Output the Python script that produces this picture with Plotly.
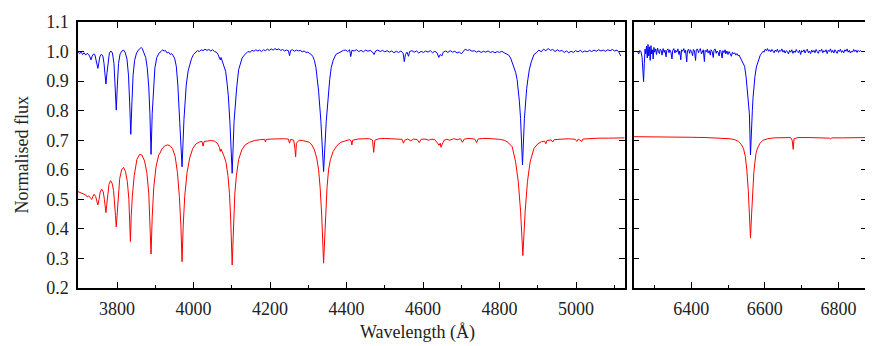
import plotly.graph_objects as go

# blue (upper) spectrum, blue arm: (wavelength A, normalised flux)
blue_left = [
    (3698, 1.000), (3702, 0.993), (3706, 0.998), (3710, 0.990), (3714, 0.996), (3718, 0.988),
    (3722, 0.994), (3726, 0.990), (3729, 0.982), (3732, 0.972), (3735, 0.985), (3739, 0.992),
    (3742, 0.990), (3745, 0.975), (3748, 0.955), (3750, 0.943), (3752, 0.958), (3755, 0.982),
    (3759, 0.991), (3763, 0.985), (3766, 0.960), (3768, 0.930), (3771, 0.890), (3774, 0.930),
    (3777, 0.975), (3780, 0.995), (3784, 1.002), (3788, 0.995), (3792, 0.960), (3795, 0.890),
    (3798, 0.802), (3801, 0.890), (3804, 0.960), (3808, 0.992), (3813, 1.002), (3817, 1.005),
    (3821, 0.998), (3826, 0.975), (3830, 0.920), (3833, 0.830), (3836, 0.720), (3839, 0.830),
    (3842, 0.920), (3846, 0.970), (3851, 0.995), (3856, 1.005), (3860, 1.012), (3863, 1.014),
    (3866, 1.010), (3870, 0.998), (3875, 0.980), (3879, 0.945), (3883, 0.880), (3886, 0.790),
    (3889, 0.652), (3892, 0.790), (3895, 0.880), (3899, 0.945), (3904, 0.980), (3910, 0.995),
    (3915, 1.000), (3919, 1.006), (3923, 1.002), (3927, 1.003), (3931, 0.995), (3935, 0.998),
    (3939, 0.990), (3943, 0.993), (3947, 0.986), (3951, 0.975), (3955, 0.950), (3959, 0.887),
    (3964, 0.760), (3970, 0.610), (3975, 0.770), (3981, 0.887), (3986, 0.935), (3990, 0.955),
    (3995, 0.977), (4000, 0.990), (4005, 0.998), (4010, 1.003), (4015, 1.000), (4020, 1.006),
    (4025, 1.003), (4030, 1.008), (4035, 1.004), (4040, 1.007), (4045, 1.002), (4050, 1.006),
    (4055, 1.000), (4060, 0.998), (4064, 0.990), (4067, 0.978), (4070, 0.972), (4072, 0.980),
    (4075, 0.967), (4078, 0.960), (4081, 0.948), (4084, 0.933), (4088, 0.890), (4091, 0.850),
    (4095, 0.764), (4101, 0.588), (4106, 0.764), (4110, 0.850), (4113, 0.880), (4118, 0.939),
    (4122, 0.960), (4127, 0.978), (4133, 0.988), (4138, 0.995), (4142, 1.000), (4148, 0.998),
    (4153, 1.004), (4158, 1.001), (4163, 1.006), (4168, 1.002), (4173, 1.005), (4178, 1.000),
    (4183, 1.006), (4188, 1.003), (4193, 1.008), (4198, 1.004), (4203, 1.009), (4208, 1.005),
    (4213, 1.010), (4218, 1.006), (4223, 1.009), (4228, 1.004), (4233, 1.007), (4238, 1.002),
    (4243, 1.005), (4248, 1.003), (4251, 0.986), (4254, 1.004), (4259, 1.006), (4264, 1.001),
    (4269, 1.005), (4274, 1.002), (4279, 1.004), (4284, 0.999), (4289, 1.002), (4294, 0.997),
    (4299, 0.998), (4304, 0.993), (4308, 0.990), (4312, 0.983), (4316, 0.970), (4320, 0.946),
    (4324, 0.905), (4327, 0.866), (4333, 0.764), (4340, 0.594), (4347, 0.764), (4353, 0.866),
    (4356, 0.905), (4360, 0.946), (4365, 0.970), (4372, 0.990), (4380, 0.996), (4386, 1.000),
    (4392, 1.004), (4398, 1.005), (4403, 1.000), (4408, 1.006), (4411, 0.983), (4414, 1.004),
    (4420, 1.002), (4426, 1.006), (4432, 1.000), (4438, 1.004), (4444, 0.999), (4450, 1.005),
    (4456, 1.001), (4462, 1.004), (4468, 0.998), (4472, 0.990), (4476, 1.002), (4482, 1.005),
    (4488, 1.000), (4494, 1.004), (4500, 0.999), (4506, 1.003), (4512, 0.998), (4518, 1.002),
    (4524, 0.996), (4530, 1.001), (4536, 0.997), (4542, 1.002), (4548, 0.994), (4551, 0.966),
    (4554, 0.990), (4558, 0.998), (4562, 0.984), (4565, 1.000), (4571, 1.003), (4577, 0.998),
    (4583, 1.002), (4589, 0.995), (4595, 1.001), (4601, 0.997), (4607, 1.002), (4613, 0.998),
    (4619, 1.003), (4625, 0.996), (4631, 1.001), (4637, 0.995), (4641, 0.980), (4645, 0.990),
    (4649, 0.985), (4653, 0.998), (4659, 1.002), (4665, 0.997), (4671, 1.003), (4677, 0.998),
    (4683, 1.001), (4689, 0.995), (4695, 0.999), (4700, 0.992), (4704, 1.000), (4710, 1.008),
    (4716, 1.004), (4722, 1.006), (4728, 1.001), (4734, 1.003), (4740, 0.998), (4746, 1.002),
    (4752, 0.997), (4758, 1.001), (4764, 0.998), (4770, 1.002), (4776, 0.997), (4782, 1.000),
    (4788, 0.996), (4794, 1.000), (4800, 0.997), (4806, 1.001), (4812, 0.996), (4818, 0.993),
    (4824, 0.988), (4829, 0.978), (4833, 0.965), (4838, 0.948), (4842, 0.930), (4846, 0.905),
    (4849, 0.875), (4852, 0.830), (4855, 0.773), (4860, 0.616), (4865, 0.773), (4868, 0.830),
    (4871, 0.875), (4874, 0.905), (4878, 0.940), (4883, 0.965), (4890, 0.990), (4896, 0.996),
    (4903, 1.005), (4909, 0.999), (4915, 1.008), (4921, 1.003), (4927, 1.010), (4933, 1.004),
    (4939, 1.007), (4945, 1.000), (4951, 1.006), (4957, 1.001), (4963, 1.004), (4969, 0.997),
    (4975, 1.002), (4981, 0.996), (4987, 1.001), (4993, 0.997), (4999, 1.003), (5005, 0.999),
    (5011, 1.004), (5017, 0.998), (5023, 1.002), (5029, 0.999), (5035, 1.004), (5041, 1.000),
    (5047, 1.005), (5053, 1.001), (5059, 1.006), (5065, 1.002), (5071, 1.005), (5077, 1.001),
    (5083, 1.006), (5089, 1.003), (5095, 1.007), (5101, 1.002), (5107, 1.005), (5112, 0.998),
    (5117, 0.985),
]

# blue spectrum, red arm (H-alpha region)
blue_right = [
    (6255, 0.998), (6258, 0.992), (6261, 1.004), (6264, 0.999), (6267, 0.980), (6269, 0.945),
    (6271, 0.898), (6273, 0.960), (6275, 1.008), (6277, 0.992), (6279, 1.018), (6281, 0.978),
    (6283, 1.024), (6285, 0.985), (6287, 1.016), (6289, 0.970), (6291, 1.020), (6293, 0.992),
    (6295, 1.006), (6297, 0.975), (6299, 1.014), (6301, 0.998), (6304, 1.009), (6306, 0.990),
    (6309, 1.012), (6311, 1.001), (6314, 0.993), (6316, 1.008), (6319, 1.003), (6321, 0.988),
    (6324, 1.010), (6327, 0.997), (6329, 1.005), (6332, 0.982), (6334, 1.004), (6337, 1.009),
    (6340, 0.996), (6342, 1.006), (6345, 0.999), (6348, 0.975), (6350, 1.003), (6353, 1.010),
    (6356, 0.995), (6358, 1.004), (6361, 0.998), (6364, 1.009), (6367, 0.990), (6369, 1.002),
    (6372, 0.972), (6374, 1.006), (6377, 1.001), (6380, 1.010), (6383, 0.996), (6385, 1.004),
    (6388, 0.965), (6390, 1.003), (6393, 1.008), (6396, 0.994), (6398, 1.006), (6401, 1.000),
    (6404, 0.986), (6406, 1.007), (6409, 1.002), (6412, 0.970), (6414, 1.005), (6417, 1.009),
    (6420, 0.996), (6422, 1.003), (6425, 1.010), (6428, 0.992), (6430, 1.001), (6433, 1.006),
    (6436, 0.966), (6438, 1.004), (6441, 0.999), (6444, 1.008), (6446, 0.995), (6449, 1.003),
    (6452, 0.988), (6454, 1.006), (6457, 1.000), (6460, 0.980), (6462, 1.004), (6465, 1.009),
    (6468, 0.994), (6470, 1.002), (6473, 0.998), (6476, 0.985), (6478, 1.005), (6481, 1.000),
    (6484, 0.978), (6486, 1.003), (6489, 0.996), (6492, 1.006), (6494, 0.992), (6497, 1.002),
    (6500, 0.990), (6503, 1.000), (6506, 0.993), (6509, 0.984), (6512, 0.998), (6515, 0.992),
    (6518, 0.996), (6521, 0.988), (6524, 0.993), (6527, 0.986), (6530, 0.988), (6533, 0.980),
    (6537, 0.975), (6541, 0.963), (6545, 0.950), (6549, 0.915), (6552, 0.880), (6555, 0.840),
    (6558, 0.790), (6561, 0.650), (6564, 0.770), (6566, 0.800), (6568, 0.845), (6570, 0.880),
    (6573, 0.915), (6577, 0.948), (6580, 0.962), (6583, 0.975), (6587, 0.986), (6591, 0.994),
    (6595, 1.001), (6598, 0.998), (6601, 1.008), (6604, 1.003), (6607, 1.010), (6610, 1.001),
    (6613, 1.006), (6616, 0.999), (6619, 1.007), (6622, 1.002), (6625, 0.996), (6628, 1.005),
    (6631, 1.000), (6634, 1.008), (6637, 0.997), (6640, 1.004), (6643, 1.001), (6646, 1.009),
    (6649, 0.998), (6652, 1.004), (6655, 0.995), (6658, 1.003), (6661, 1.000), (6664, 0.992),
    (6667, 1.004), (6670, 0.998), (6673, 1.006), (6676, 0.994), (6679, 1.002), (6682, 0.997),
    (6685, 1.007), (6688, 1.000), (6691, 0.996), (6694, 1.005), (6697, 0.990), (6700, 1.003),
    (6703, 0.999), (6706, 1.006), (6709, 0.995), (6712, 1.003), (6715, 1.008), (6718, 0.996),
    (6721, 1.002), (6724, 0.993), (6727, 1.005), (6730, 0.998), (6733, 1.004), (6736, 0.996),
    (6739, 1.007), (6742, 1.000), (6745, 0.994), (6748, 1.005), (6751, 1.001), (6754, 1.008),
    (6757, 0.996), (6760, 1.003), (6763, 0.999), (6766, 1.006), (6769, 0.993), (6772, 1.004),
    (6775, 1.000), (6778, 1.009), (6781, 0.997), (6784, 1.004), (6787, 0.995), (6790, 1.006),
    (6793, 1.001), (6796, 0.994), (6799, 1.005), (6802, 1.000), (6805, 1.008), (6808, 0.997),
    (6811, 1.003), (6814, 0.996), (6817, 1.006), (6820, 1.001), (6823, 1.009), (6826, 0.998),
    (6829, 1.004), (6832, 0.995), (6835, 1.002), (6838, 0.998), (6841, 1.007), (6844, 1.000),
    (6847, 1.005), (6850, 0.997), (6853, 1.004), (6856, 1.000), (6859, 1.003), (6861, 1.001),
]

# red (lower) spectrum, blue arm
red_left = [
    (3698, 0.526), (3705, 0.522), (3712, 0.518), (3718, 0.515), (3722, 0.508), (3726, 0.512),
    (3730, 0.505), (3734, 0.500), (3737, 0.510), (3740, 0.517), (3744, 0.510), (3747, 0.495),
    (3750, 0.481), (3753, 0.500), (3756, 0.525), (3760, 0.534), (3764, 0.525), (3767, 0.500),
    (3769, 0.475), (3771, 0.455), (3773, 0.480), (3776, 0.520), (3779, 0.550), (3783, 0.563),
    (3787, 0.555), (3791, 0.530), (3794, 0.490), (3796, 0.445), (3798, 0.407), (3800, 0.450),
    (3803, 0.510), (3807, 0.570), (3812, 0.600), (3817, 0.608), (3822, 0.595), (3827, 0.560),
    (3831, 0.500), (3833, 0.440), (3835, 0.357), (3837, 0.440), (3840, 0.510), (3845, 0.580),
    (3852, 0.635), (3859, 0.652), (3865, 0.650), (3872, 0.630), (3878, 0.590), (3883, 0.520),
    (3886, 0.440), (3889, 0.315), (3892, 0.440), (3896, 0.540), (3902, 0.610), (3909, 0.650),
    (3914, 0.660), (3916, 0.668), (3920, 0.675), (3926, 0.682), (3932, 0.684), (3938, 0.682),
    (3945, 0.672), (3952, 0.645), (3958, 0.590), (3963, 0.510), (3967, 0.410), (3970, 0.289),
    (3973, 0.410), (3977, 0.510), (3983, 0.590), (3990, 0.640), (3998, 0.672), (4006, 0.687),
    (4015, 0.694), (4022, 0.696), (4025, 0.680), (4028, 0.696), (4036, 0.697), (4045, 0.699),
    (4055, 0.697), (4062, 0.690), (4068, 0.675), (4070, 0.662), (4072, 0.670), (4076, 0.660),
    (4080, 0.645), (4085, 0.625), (4090, 0.580), (4094, 0.520), (4097, 0.440), (4101, 0.278),
    (4105, 0.440), (4108, 0.520), (4112, 0.580), (4118, 0.635), (4126, 0.667), (4135, 0.684),
    (4146, 0.693), (4160, 0.699), (4175, 0.702), (4186, 0.703), (4188, 0.694), (4190, 0.703),
    (4205, 0.704), (4220, 0.705), (4235, 0.705), (4248, 0.704), (4251, 0.690), (4254, 0.703),
    (4262, 0.700), (4265, 0.672), (4267, 0.644), (4269, 0.690), (4272, 0.695), (4276, 0.700),
    (4285, 0.699), (4295, 0.697), (4303, 0.693), (4310, 0.683), (4316, 0.667), (4322, 0.640),
    (4327, 0.600), (4331, 0.540), (4335, 0.450), (4340, 0.284), (4345, 0.450), (4349, 0.540),
    (4353, 0.600), (4358, 0.635), (4365, 0.662), (4375, 0.682), (4385, 0.693), (4397, 0.699),
    (4408, 0.702), (4412, 0.698), (4414, 0.684), (4416, 0.700), (4430, 0.704), (4445, 0.705),
    (4460, 0.705), (4468, 0.700), (4471, 0.659), (4474, 0.700), (4485, 0.705), (4500, 0.706),
    (4515, 0.705), (4530, 0.706), (4545, 0.703), (4549, 0.690), (4552, 0.700), (4560, 0.704),
    (4568, 0.698), (4575, 0.704), (4585, 0.702), (4590, 0.692), (4595, 0.703), (4605, 0.704),
    (4615, 0.700), (4620, 0.703), (4630, 0.703), (4638, 0.690), (4642, 0.683), (4645, 0.690),
    (4647, 0.676), (4650, 0.686), (4655, 0.700), (4662, 0.703), (4670, 0.700), (4680, 0.705),
    (4690, 0.702), (4698, 0.705), (4703, 0.693), (4708, 0.704), (4720, 0.706), (4735, 0.704),
    (4740, 0.692), (4744, 0.704), (4755, 0.706), (4770, 0.706), (4785, 0.705), (4800, 0.703),
    (4812, 0.700), (4822, 0.693), (4833, 0.678), (4842, 0.627), (4849, 0.560), (4855, 0.460),
    (4861, 0.310), (4867, 0.460), (4873, 0.560), (4880, 0.627), (4890, 0.672), (4900, 0.688),
    (4910, 0.695), (4918, 0.697), (4921, 0.688), (4924, 0.699), (4935, 0.701), (4939, 0.694),
    (4943, 0.702), (4960, 0.704), (4980, 0.705), (4998, 0.703), (5002, 0.696), (5006, 0.704),
    (5015, 0.696), (5018, 0.704), (5035, 0.706), (5060, 0.707), (5085, 0.707), (5110, 0.708),
    (5127, 0.708),
]

# red spectrum, red arm
red_right = [
    (6244, 0.712), (6280, 0.712), (6320, 0.711), (6360, 0.711), (6400, 0.710), (6440, 0.709),
    (6470, 0.708), (6490, 0.707), (6505, 0.705), (6518, 0.702), (6528, 0.696), (6536, 0.686),
    (6542, 0.672), (6547, 0.645), (6551, 0.600), (6555, 0.530), (6558, 0.450), (6561, 0.370),
    (6564, 0.450), (6567, 0.530), (6570, 0.590), (6573, 0.625), (6576, 0.655), (6580, 0.673),
    (6587, 0.690), (6595, 0.700), (6608, 0.705), (6625, 0.708), (6650, 0.709), (6670, 0.709),
    (6674, 0.700), (6677, 0.669), (6679, 0.705), (6690, 0.709), (6720, 0.709), (6750, 0.708),
    (6775, 0.707), (6778, 0.704), (6781, 0.708), (6810, 0.708), (6840, 0.709), (6877, 0.709),
]

x_left = [3698, 5127]
x_right = [6244, 6877]
y_range = [0.2, 1.1]

font = dict(family="Times New Roman, Liberation Serif, DejaVu Serif, serif",
            size=18, color="#222")

fig = go.Figure()

def add_spec(spec, color, xa, ya):
    fig.add_trace(go.Scatter(
        x=[p[0] for p in spec], y=[p[1] for p in spec],
        mode="lines", line=dict(color=color, width=1),
        xaxis=xa, yaxis=ya, showlegend=False, hoverinfo="skip"))

add_spec(red_left, "#ff0000", "x", "y")
add_spec(blue_left, "#0000ff", "x", "y")
add_spec(red_right, "#ff0000", "x2", "y2")
add_spec(blue_right, "#0000ff", "x2", "y2")

axis_style = dict(
    showline=True, linecolor="black", linewidth=1.5, mirror="allticks",
    ticks="inside", ticklen=6, tickwidth=1.2, tickcolor="black",
    showgrid=False, zeroline=False, tickfont=font,
)
minor_x = dict(dtick=100, ticks="inside", ticklen=3, tickwidth=1.2,
               tickcolor="black", showgrid=False)

# the page body adds an 8px margin, so the figure is sized 8px smaller
fig.update_layout(
    width=865, height=338,
    margin=dict(l=70, r=4, t=14, b=58),
    paper_bgcolor="white", plot_bgcolor="white",
    font=font,
    xaxis=dict(axis_style, domain=[0, 0.6928], range=x_left,
               dtick=200, tick0=0, minor=minor_x, anchor="y",
               ticklabelstandoff=4),
    xaxis2=dict(axis_style, domain=[0.7042, 1], range=x_right,
                dtick=200, tick0=0, minor=minor_x, anchor="y2",
                ticklabelstandoff=4),
    yaxis=dict(axis_style, range=y_range, dtick=0.1, tick0=0,
               tickformat=".1f", anchor="x", ticklabelstandoff=4),
    yaxis2=dict(axis_style, range=y_range, dtick=0.1, tick0=0,
                showticklabels=False, anchor="x2"),
    annotations=[
        dict(text="Wavelength (Å)", x=0.43, y=-0.169, xref="paper", yref="paper",
             showarrow=False, xanchor="center", yanchor="middle", font=font),
        dict(text="Normalised flux", x=-0.0868, y=0.5, xref="paper", yref="paper",
             showarrow=False, textangle=-90, xanchor="left", yanchor="middle",
             font=font),
    ],
)

fig.write_html("out.html")
